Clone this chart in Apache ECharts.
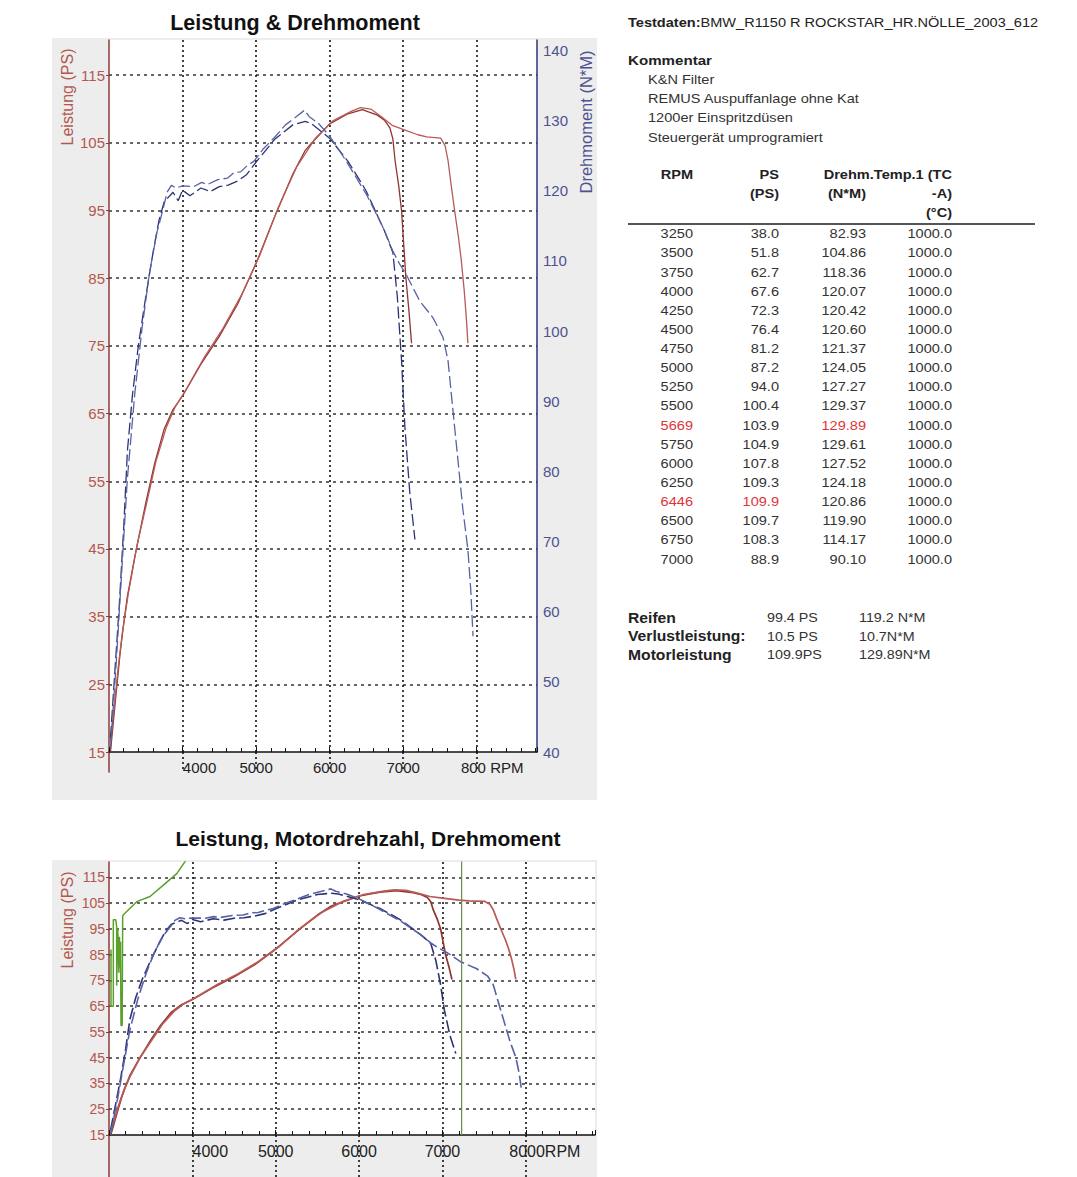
<!DOCTYPE html>
<html>
<head>
<meta charset="utf-8">
<title>Leistung &amp; Drehmoment</title>
<script src="https://cdn.jsdelivr.net/npm/echarts@6/dist/echarts.min.js"></script>
<style>
  html, body { margin: 0; padding: 0; background: #fff; }
  #main { width: 1077px; height: 1177px; }
</style>
</head>
<body>
<div id="main"></div>
<script>
// dyno runs, pairs of [rpm, value]
var run1Power = [[3020,15],[3060,19.5],[3100,24],[3150,29.5],[3200,34],[3250,38.0],[3350,43.8],[3500,51.8],[3620,57.6],[3750,62.7],[3870,65.6],[4000,67.6],[4250,72.3],[4500,76.4],[4750,81.2],[5000,87.2],[5250,94.0],[5500,100.4],[5669,103.9],[5750,104.9],[6000,107.8],[6250,109.3],[6446,109.9],[6500,109.7],[6650,109.1],[6750,108.3],[6820,107.2],[6860,105.6],[6890,102.4],[6940,98.6],[6978,95],[7036,85.2],[7080,80],[7114,75.4]];
var run2Power = [[3020,16.5],[3070,21.5],[3120,27],[3180,32.5],[3260,38.2],[3380,45.5],[3500,51.2],[3640,58],[3780,63],[3900,66],[4050,68.6],[4300,73.4],[4550,77.6],[4800,82.5],[5050,88.4],[5300,95.4],[5550,101.4],[5800,105.6],[6050,108.3],[6300,109.7],[6420,110.2],[6560,110],[6700,108.9],[6850,107.6],[7025,106.9],[7200,106.2],[7320,105.9],[7510,105.7],[7570,104.6],[7610,102.4],[7650,99],[7700,95],[7750,91.2],[7790,87.7],[7830,83.2],[7860,79],[7880,75.4]];
var run1Torque = [[3020,42],[3080,51.5],[3140,61],[3200,72],[3250,82.9],[3320,91],[3400,98],[3500,104.9],[3600,111.3],[3680,115.8],[3750,118.4],[3870,119.8],[3940,118.6],[4000,120.1],[4100,119.3],[4250,120.4],[4380,119.9],[4500,120.6],[4620,120.8],[4750,121.4],[4870,122.3],[5000,124.1],[5250,127.3],[5500,129.4],[5669,129.9],[5750,129.6],[6000,127.5],[6250,124.2],[6446,120.9],[6500,119.9],[6750,114.2],[6860,111.2],[6920,105],[6978,95.8],[7023,86.4],[7090,77],[7160,70.3]];
var run2Torque = [[3020,40.5],[3100,53],[3180,67],[3250,79],[3350,91],[3450,100.5],[3550,108.3],[3650,114],[3730,117.2],[3790,119.8],[3850,120.8],[3910,120.4],[4000,120.7],[4155,120.6],[4260,121.2],[4340,120.9],[4480,121.6],[4610,121.8],[4700,122.6],[4790,122.7],[4880,123.6],[4970,124.2],[5100,126],[5250,127.6],[5400,129.4],[5550,130.6],[5660,131.5],[5720,130.6],[5850,129.6],[6000,127.8],[6235,124.1],[6505,119.4],[6730,114.7],[6860,111.4],[6950,109.6],[7045,108],[7225,104.3],[7406,101.9],[7542,99.1],[7610,95.8],[7677,88.7],[7745,81.6],[7812,74.6],[7880,68.9],[7920,63],[7950,56.5]];
// green Motordrehzahl trace + marker (bottom chart only)
var rpmTrace = [[3024,87],[3024,65],[3052,65],[3052,98.6],[3080,98.6],[3092,96],[3092,73],[3105,95],[3112,88],[3118,78],[3125,92],[3132,80],[3138,90],[3144,57.5],[3158,57.5],[3164,99.9],[3172,100.5],[3333,105.6],[3492,107.6],[3652,112],[3813,116.5],[3930,122]];
var rpmMarker = [[7230,15],[7230,122]];

// table on the right
var tableRpm = [3250,3500,3750,4000,4250,4500,4750,5000,5250,5500,5669,5750,6000,6250,6446,6500,6750,7000];
var tablePs = [38.0,51.8,62.7,67.6,72.3,76.4,81.2,87.2,94.0,100.4,103.9,104.9,107.8,109.3,109.9,109.7,108.3,88.9];
var tableNm = [82.93,104.86,118.36,120.07,120.42,120.60,121.37,124.05,127.27,129.37,129.89,129.61,127.52,124.18,120.86,119.90,114.17,90.10];
var tableTemp = [1000.0,1000.0,1000.0,1000.0,1000.0,1000.0,1000.0,1000.0,1000.0,1000.0,1000.0,1000.0,1000.0,1000.0,1000.0,1000.0,1000.0,1000.0];
var comments = ['K&N Filter', 'REMUS Auspuffanlage ohne Kat', '1200er Einspritzdüsen', 'Steuergerät umprogramiert'];
var summaryLabels = ['Reifen', 'Verlustleistung:', 'Motorleistung'];
var summaryPs = ['99.4 PS', '10.5 PS', '109.9PS'];
var summaryNm = ['119.2 N*M', '10.7N*M', '129.89N*M'];

var FONT = 'Liberation Sans, Arial, sans-serif';
var RED = '#8e3530', RED2 = '#b85a55', BLUE = '#2c3474', BLUE2 = '#5762a6';
var PS_COLOR = '#b4574e', NM_COLOR = '#4e5290', PS_AXIS = '#8a3b35';

var chart = echarts.init(document.getElementById('main'), null, {renderer: 'svg'});

var hGrid = {show: true, showMinLine: false, showMaxLine: false, lineStyle: {color: '#666', width: 2, type: [3, 4]}};
var vGrid = {show: true, showMinLine: false, showMaxLine: false, lineStyle: {color: '#111', width: 1.6, type: [2, 3]}};

function xLabels(size, shift4000, shiftEnd, endText) {
  return {
    color: '#222', fontSize: size, fontFamily: FONT, margin: 8,
    formatter: function (v) {
      if (v === 4000) return '{f|4000}';
      if (v === 8000) return '{e|' + endText + '}';
      if (v % 1000 !== 0 || v === 3000) return '';
      return String(v);
    },
    rich: {
      f: {padding: [0, 0, 0, shift4000], fontSize: size, fontFamily: FONT, color: '#222'},
      e: {padding: [0, 0, 0, shiftEnd], fontSize: size, fontFamily: FONT, color: '#222'}
    }
  };
}

function line(name, data, color, dashed, xi, yi, width) {
  return {
    name: name, type: 'line', xAxisIndex: xi, yAxisIndex: yi, data: data,
    symbol: 'none', animation: false,
    lineStyle: {color: color, width: width || 1.3, type: dashed ? [12, 4] : 'solid'}
  };
}

// strip under each rpm axis: grid lines and power axis run on through the labels
function stripX(grid, max) {
  return {gridIndex: grid, type: 'value', min: 3000, max: max, interval: 1000,
    axisLine: {show: false}, axisTick: {show: false}, axisLabel: {show: false}, splitLine: vGrid};
}
function stripY(grid) {
  return {gridIndex: grid, type: 'value', min: 0, max: 1,
    axisLine: {show: true, onZero: false, lineStyle: {color: PS_AXIS, width: 1.5}},
    axisTick: {show: false}, axisLabel: {show: false}, splitLine: {show: false}};
}

// text for the right hand side
var texts = [];
function txt(x, y, s, opt) {
  opt = opt || {};
  texts.push({
    type: 'text', x: x, y: y, rotation: opt.rot || 0, scaleX: opt.sx || 1,
    style: {
      text: s, fontFamily: FONT, fontSize: opt.size || 13, fontWeight: opt.bold ? 'bold' : 'normal',
      fill: opt.color || '#333', align: opt.align || 'left', verticalAlign: 'middle',
      rich: opt.rich
    }
  });
}

var SX = 1.12;
txt(628, 23, '{b|Testdaten:}{n|BMW_R1150 R ROCKSTAR_HR.NÖLLE_2003_612}', {
  sx: SX,
  rich: {b: {fontWeight: 'bold', fontSize: 13, fontFamily: FONT, fill: '#222'}, n: {fontSize: 13, fontFamily: FONT, fill: '#222'}}
});
txt(628, 60, 'Kommentar', {bold: true, color: '#222', sx: SX, size: 13.5});
comments.forEach(function (c, i) { txt(648, 80 + i * 19.1, c, {sx: SX, size: 13}); });

txt(677, 175, 'RPM', {bold: true, align: 'center', color: '#222', sx: SX});
txt(779, 175, 'PS', {bold: true, align: 'right', color: '#222', sx: SX});
txt(779, 194, '(PS)', {bold: true, align: 'right', color: '#222', sx: SX});
txt(952, 175, 'Drehm.Temp.1 (TC', {bold: true, align: 'right', color: '#222', sx: SX});
txt(866, 194, '(N*M)', {bold: true, align: 'right', color: '#222', sx: SX});
txt(952, 194, '-A)', {bold: true, align: 'right', color: '#222', sx: SX});
txt(952, 213, '(°C)', {bold: true, align: 'right', color: '#222', sx: SX});
texts.push({type: 'line', shape: {x1: 628, y1: 224, x2: 1035, y2: 224}, style: {stroke: '#555', lineWidth: 2}});

var maxPsIdx = tablePs.indexOf(Math.max.apply(null, tablePs));
var maxNmIdx = tableNm.indexOf(Math.max.apply(null, tableNm));
tableRpm.forEach(function (r, i) {
  var y = 234 + i * 19.14;
  var hot = (i === maxPsIdx || i === maxNmIdx);
  txt(693, y, String(r), {align: 'right', color: hot ? '#e0343a' : '#333', sx: SX});
  txt(779, y, tablePs[i].toFixed(1), {align: 'right', color: i === maxPsIdx ? '#e0343a' : '#333', sx: SX});
  txt(866, y, tableNm[i].toFixed(2), {align: 'right', color: i === maxNmIdx ? '#e0343a' : '#333', sx: SX});
  txt(952, y, tableTemp[i].toFixed(1), {align: 'right', sx: SX});
});

summaryLabels.forEach(function (s, i) {
  var y = 618 + i * 18.5;
  txt(628, y, s, {bold: true, color: '#222', size: 14, sx: SX});
  txt(767, y, summaryPs[i], {sx: 1.1});
  txt(859, y, summaryNm[i], {sx: 1.1});
});

// axis names
txt(67, 97, 'Leistung (PS)', {rot: Math.PI / 2, align: 'center', size: 16, color: PS_COLOR});
txt(586, 122, 'Drehmoment (N*M)', {rot: Math.PI / 2, align: 'center', size: 16.5, color: NM_COLOR});
txt(67, 920, 'Leistung (PS)', {rot: Math.PI / 2, align: 'center', size: 16, color: PS_COLOR});

// grey panels behind both plots
texts.push({type: 'rect', z: -100, shape: {x: 52, y: 38, width: 545, height: 762}, style: {fill: '#ededed'}});
texts.push({type: 'rect', z: -100, shape: {x: 52, y: 860, width: 545, height: 317}, style: {fill: '#ededed'}});

chart.setOption({
  animation: false,
  backgroundColor: '#fff',
  title: [
    {text: 'Leistung & Drehmoment', left: 295, top: 12, textAlign: 'center', padding: 0,
     textStyle: {fontSize: 21.5, fontWeight: 'bold', color: '#111', fontFamily: FONT}},
    {text: 'Leistung, Motordrehzahl, Drehmoment', left: 368, top: 828, textAlign: 'center', padding: 0,
     textStyle: {fontSize: 21, fontWeight: 'bold', color: '#111', fontFamily: FONT}}
  ],
  grid: [
    {left: 109, right: 540, top: 40, bottom: 425, show: true, backgroundColor: '#fff', borderWidth: 0},
    {left: 109, right: 482, top: 862, bottom: 42, show: true, backgroundColor: '#fff', borderWidth: 0},
    {left: 109, right: 540, top: 752, bottom: 405},
    {left: 109, right: 482, top: 1135, bottom: 0}
  ],
  xAxis: [
    {gridIndex: 0, type: 'value', min: 3000, max: 8820, interval: 1000,
     axisLine: {lineStyle: {color: '#111', width: 1.5}},
     axisTick: {inside: true, length: 5, lineStyle: {color: '#111'}},
     minorTick: {show: true, splitNumber: 5, length: 4, lineStyle: {color: '#111'}},
     axisLabel: xLabels(15, 34, 31, '800 RPM'),
     splitLine: vGrid},
    {gridIndex: 1, type: 'value', min: 3000, max: 8830, interval: 1000,
     axisLine: {lineStyle: {color: '#111', width: 1.5}},
     axisTick: {inside: true, length: 5, lineStyle: {color: '#111'}},
     minorTick: {show: true, splitNumber: 5, length: 4, lineStyle: {color: '#111'}},
     axisLabel: xLabels(16, 36, 38, '8000RPM'),
     splitLine: vGrid},
    stripX(2, 8820),
    stripX(3, 8830)
  ],
  yAxis: [
    {gridIndex: 0, type: 'value', position: 'left', min: 15, max: 120.2, interval: 10,
     axisLine: {show: true, lineStyle: {color: PS_AXIS, width: 1.5}},
     axisTick: {show: true, length: 3, lineStyle: {color: PS_AXIS}},
     axisLabel: {color: PS_COLOR, fontSize: 15, fontFamily: FONT, margin: 4, showMaxLabel: false},
     splitLine: hGrid},
    {gridIndex: 0, type: 'value', position: 'right', min: 40, max: 141.5, interval: 10,
     axisLine: {show: true, lineStyle: {color: '#2e3576', width: 1.5}},
     axisTick: {show: false},
     axisLabel: {color: NM_COLOR, fontSize: 15, fontFamily: FONT, margin: 6, showMaxLabel: false},
     splitLine: {show: false}},
    {gridIndex: 1, type: 'value', position: 'left', min: 15, max: 121, interval: 10,
     axisLine: {show: true, lineStyle: {color: PS_AXIS, width: 1.5}},
     axisTick: {show: true, length: 3, lineStyle: {color: PS_AXIS}},
     axisLabel: {color: PS_COLOR, fontSize: 14, fontFamily: FONT, margin: 4, showMaxLabel: false},
     splitLine: hGrid},
    {gridIndex: 1, type: 'value', position: 'right', min: 40, max: 141.5, show: false},
    stripY(2),
    stripY(3)
  ],
  graphic: texts,
  series: [
    line('PS Lauf 1', run1Power, RED, false, 0, 0),
    line('PS Lauf 2', run2Power, RED2, false, 0, 0),
    line('Nm Lauf 1', run1Torque, BLUE, true, 0, 1),
    line('Nm Lauf 2', run2Torque, BLUE2, true, 0, 1),
    line('PS Lauf 1', run1Power, RED, false, 1, 2, 1.7),
    line('PS Lauf 2', run2Power, RED2, false, 1, 2, 1.7),
    line('Nm Lauf 1', run1Torque, BLUE, true, 1, 3, 1.6),
    line('Nm Lauf 2', run2Torque, BLUE2, true, 1, 3, 1.6),
    line('Motordrehzahl', rpmTrace, '#5aa02c', false, 1, 2, 1.5),
    line('Motordrehzahl', rpmMarker, '#6b8a4a', false, 1, 2, 1.2)
  ]
});
</script>
</body>
</html>
